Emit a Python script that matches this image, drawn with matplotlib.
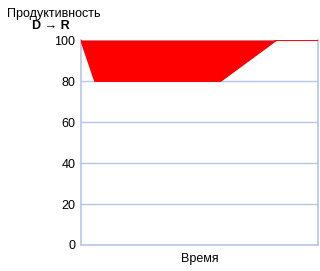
import matplotlib
matplotlib.use('Agg')
import matplotlib.pyplot as plt

# time points and productivity level (D -> R)
time = [0, 1, 10, 14, 17]
productivity = [100, 80, 80, 100, 100]
yticks = [0, 20, 40, 60, 80, 100]

plt.rcParams['font.family'] = ['Liberation Sans', 'DejaVu Sans']

grid_color = '#b4c7e7'

fig = plt.figure(figsize=(3.2, 2.71), dpi=100)
ax = fig.add_axes([0.253, 0.096, 0.741, 0.756])

ax.fill_between(time, productivity, 100, color='#ff0000', linewidth=0, zorder=3)
ax.plot(time, productivity, color='#ff0000', linewidth=1.2, zorder=3)

ax.set_xlim(0, 17)
ax.set_ylim(0, 100)
ax.set_yticks(yticks)
ax.set_xticks([])
ax.tick_params(axis='y', length=0, labelsize=9, pad=4)
ax.grid(axis='y', color=grid_color, linewidth=1, zorder=1)

for side in ['left', 'bottom', 'right']:
    ax.spines[side].set_color(grid_color)
    ax.spines[side].set_linewidth(1.2)
ax.spines['top'].set_visible(False)

ax.set_xlabel('Время', fontsize=9, labelpad=6)

fig.text(0.022, 0.95, 'Продуктивность', fontsize=9, ha='left', va='center')
fig.text(0.1, 0.905, 'D → R', fontsize=9, fontweight='bold', ha='left', va='center')

fig.savefig('out.png', dpi=100)
